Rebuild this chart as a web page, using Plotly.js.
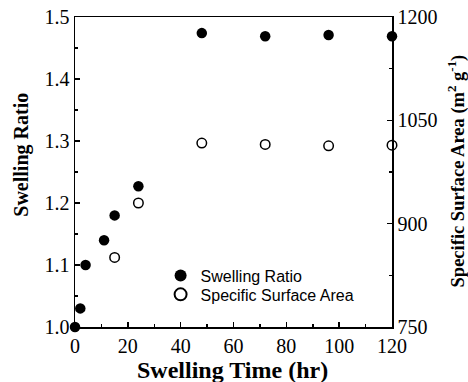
<!DOCTYPE html>
<html>
<head>
<meta charset="utf-8">
<script src="https://cdn.plot.ly/plotly-3.0.1.min.js"></script>
<style>html,body{margin:0;padding:0;background:#fff;}#chart{width:468px;height:382px;}</style>
</head>
<body>
<div id="chart"></div>
<script>
// Swelling ratio series
const swellTime = [0, 2, 4, 11, 15, 24, 48, 72, 96, 120];
const swellRatio = [1.0, 1.03, 1.10, 1.14, 1.18, 1.227, 1.474, 1.469, 1.471, 1.469];
// Specific surface area series
const ssaTime = [15, 24, 48, 72, 96, 120];
const ssaValue = [851, 930, 1017, 1015, 1013, 1014];
// Labels
const xTickVals = [0, 20, 40, 60, 80, 100, 120];
const yLeftTicks = [1.0, 1.1, 1.2, 1.3, 1.4, 1.5];
const yRightTicks = [750, 900, 1050, 1200];
const seriesNames = ["Swelling Ratio", "Specific Surface Area"];
const xTitle = "Swelling Time (hr)";
const yTitle = "Swelling Ratio";
const y2Title = "Specific Surface Area (m<sup>2</sup> g<sup>-1</sup>)";

const serif = "Liberation Serif, Times New Roman, serif";
const sans = "Liberation Sans, Arial, sans-serif";
const tickFont = {family: serif, size: 20, color: "#000"};
const legendFont = {family: sans, size: 16, color: "#000"};

const traces = [
  {x: swellTime, y: swellRatio, name: seriesNames[0], type: "scatter", mode: "markers",
   marker: {symbol: "circle", size: 10.5, color: "#000"}, yaxis: "y", cliponaxis: false, legend: "legend"},
  {x: ssaTime, y: ssaValue, name: seriesNames[1], type: "scatter", mode: "markers",
   marker: {symbol: "circle-open", size: 9.5, color: "#000", line: {width: 1.5, color: "#000"}}, yaxis: "y2", cliponaxis: false, legend: "legend2"}
];

const minorTick = {ticks: "inside", ticklen: 3, tickwidth: 1.5, tickcolor: "#000"};
const commonAxis = {showgrid: false, zeroline: false, showline: true, linecolor: "#000", linewidth: 1.5,
  ticks: "inside", ticklen: 5, tickwidth: 1.5, tickcolor: "#000", tickfont: tickFont};

const legendBase = {xanchor: "left", yanchor: "middle", bgcolor: "rgba(0,0,0,0)", font: legendFont,
  itemwidth: 30, itemsizing: "constant", borderwidth: 0};

const layout = {
  width: 468, height: 382,
  margin: {l: 75, r: 76, t: 17, b: 55},
  paper_bgcolor: "#fff", plot_bgcolor: "#fff",
  showlegend: true,
  legend: Object.assign({}, legendBase, {x: 0.27, y: 0.166}),
  legend2: Object.assign({}, legendBase, {x: 0.27, y: 0.105}),
  xaxis: Object.assign({}, commonAxis, {range: [0, 120], tickvals: xTickVals, mirror: true,
    minor: Object.assign({}, minorTick, {dtick: 10, tick0: 0})}),
  yaxis: Object.assign({}, commonAxis, {range: [1.0, 1.5], tickvals: yLeftTicks, tickformat: ".1f",
    minor: Object.assign({}, minorTick, {dtick: 0.05, tick0: 1.0})}),
  yaxis2: Object.assign({}, commonAxis, {range: [750, 1200], tickvals: yRightTicks, overlaying: "y", side: "right",
    minor: Object.assign({}, minorTick, {dtick: 75, tick0: 750})}),
  annotations: [
    {text: "<b>" + xTitle + "</b>", xref: "paper", yref: "paper", x: 0.498, y: -0.139, yanchor: "middle", xanchor: "center",
     showarrow: false, font: {family: serif, size: 24, color: "#000"}},
    {text: "<b>" + yTitle + "</b>", xref: "paper", yref: "paper", x: -0.167, y: 0.556, xanchor: "center", yanchor: "middle",
     textangle: -90, showarrow: false, font: {family: serif, size: 20, color: "#000"}},
    {text: "<b>" + y2Title + "</b>", xref: "paper", yref: "paper", x: 1.203, y: 0.503, xanchor: "center", yanchor: "middle",
     textangle: -90, showarrow: false, font: {family: serif, size: 18.5, color: "#000"}}
  ]
};

Plotly.newPlot("chart", traces, layout, {displayModeBar: false, staticPlot: true});
</script>
</body>
</html>
